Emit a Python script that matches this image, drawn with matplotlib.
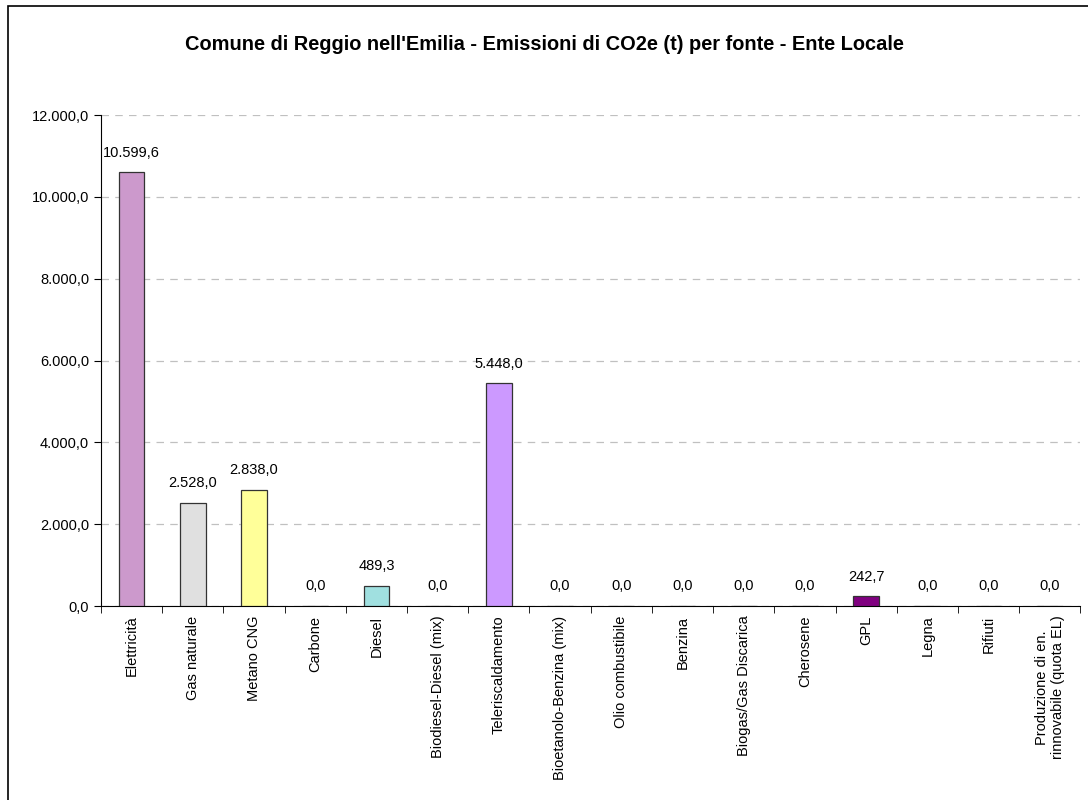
import matplotlib.pyplot as plt
import numpy as np

plt.rcParams['font.family'] = ['Liberation Sans', 'DejaVu Sans']

fonti = ["Elettricità", "Gas naturale", "Metano CNG", "Carbone", "Diesel",
         "Biodiesel-Diesel (mix)", "Teleriscaldamento", "Bioetanolo-Benzina (mix)",
         "Olio combustibile", "Benzina", "Biogas/Gas Discarica", "Cherosene",
         "GPL", "Legna", "Rifiuti", "Produzione di en.\nrinnovabile (quota EL)"]
emissioni = [10599.6, 2528.0, 2838.0, 0.0, 489.3, 0.0, 5448.0, 0.0,
             0.0, 0.0, 0.0, 0.0, 242.7, 0.0, 0.0, 0.0]
colori = ["#CC99CC", "#E0E0E0", "#FFFF99", "#FFFFFF", "#A0E0E0", "#FFFFFF",
          "#CC99FF", "#FFFFFF", "#FFFFFF", "#FFFFFF", "#FFFFFF", "#FFFFFF",
          "#800080", "#FFFFFF", "#FFFFFF", "#FFFFFF"]
y_ticks = [0, 2000, 4000, 6000, 8000, 10000, 12000]


def fmt_it(v):
    # formato italiano: punto per le migliaia, virgola per i decimali
    s = f"{v:,.1f}"
    return s.replace(",", "X").replace(".", ",").replace("X", ".")


fig = plt.figure(figsize=(10.88, 8), dpi=100)
ax = fig.add_axes([0.0928, 0.2425, 0.9002, 0.6135])

# cornice esterna del grafico
fig.add_artist(plt.Rectangle((0.0075, -0.05), 1.5, 1.0425, transform=fig.transFigure,
                             fill=False, edgecolor="black", linewidth=1.2))

x = np.arange(len(fonti))
ax.bar(x, emissioni, width=0.42, color=colori, edgecolor="#333333", linewidth=0.9, zorder=3)

for xi, v in zip(x, emissioni):
    ax.annotate(fmt_it(v), (xi, v), xytext=(0, 9), textcoords="offset points",
                ha="center", va="bottom", fontsize=10.5)

ax.set_xlim(-0.5, len(fonti) - 0.5)
ax.set_ylim(0, 12000)
ax.set_yticks(y_ticks)
ax.set_yticklabels([fmt_it(t) for t in y_ticks], fontsize=10.5)
ax.yaxis.grid(True, linestyle=(0, (6, 5)), color="#C0C0C0", linewidth=0.9, zorder=0)

ax.set_xticks(x)
ax.set_xticklabels(fonti, rotation=90, fontsize=10.5, va="top", ha="center",
                   multialignment="center")
ax.set_xticks(np.arange(len(fonti) + 1) - 0.5, minor=True)
ax.tick_params(axis="x", which="major", length=0, pad=7)
ax.tick_params(axis="x", which="minor", length=5, direction="out", color="black")
ax.tick_params(axis="y", length=5, direction="out")

ax.spines["top"].set_visible(False)
ax.spines["right"].set_visible(False)

fig.text(0.5, 0.944, "Comune di Reggio nell'Emilia - Emissioni di CO2e (t) per fonte - Ente Locale",
         ha="center", va="center", fontsize=14.4, fontweight="bold")

fig.savefig("out.png", dpi=100)
